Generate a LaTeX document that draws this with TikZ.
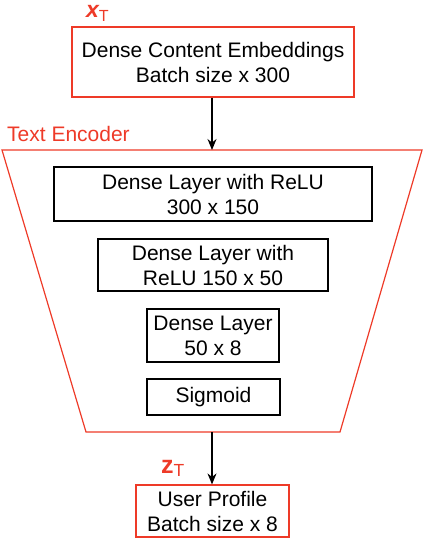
\documentclass[tikz,border=0pt]{standalone}
\usepackage{fontspec}
\setmainfont{Liberation Sans}
\usetikzlibrary{arrows.meta}
\definecolor{encred}{RGB}{238,58,40}
\begin{document}
\begin{tikzpicture}[x=1pt,y=-1pt,
  every node/.style={font=\fontsize{21}{25}\selectfont, align=center, inner sep=0pt},
  layerbox/.style={draw=black, line width=1.4pt, minimum width=#1},
  iobox/.style={draw=encred, line width=1.2pt, minimum width=#1},
  flow/.style={line width=1.3pt, -{Stealth[length=11pt,width=9pt]}},
  redlabel/.style={text=encred}]
\useasboundingbox (0,0) rectangle (424,538);
% input box
\node[iobox=282, minimum height=70] (inp) at (213,62) {Dense Content Embeddings\\Batch size x 300};
\node[redlabel, anchor=base west, font=\fontsize{23}{25}\selectfont\bfseries\itshape] (xt) at (86,17.5) {x\textsubscript{\normalfont\upshape T}};
% encoder trapezoid
\coordinate (tl) at (2,150);
\coordinate (tr) at (422,150);
\coordinate (br) at (340,432);
\coordinate (bl) at (86,432);
\coordinate (ttop) at (212,150);
\coordinate (tbot) at (212,432);
\draw[encred, line width=1.2pt] (tl) -- (tr) -- (br) -- (bl) -- cycle;
\node[redlabel, anchor=base west] (enc) at (7,141) {Text Encoder};
% layers
\node[layerbox=318, minimum height=54] (l1) at (213,194) {Dense Layer with ReLU\\300 x 150};
\node[layerbox=230, minimum height=52] (l2) at (213,265) {Dense Layer with\\ReLU 150 x 50};
\node[layerbox=132, minimum height=53] (l3) at (213,335.5) {Dense Layer\\50 x 8};
\node[layerbox=133, minimum height=36] (l4) at (213.5,397) {Sigmoid};
% output
\node[iobox=153, minimum height=52] (out) at (212.5,511) {User Profile\\Batch size x 8};
\node[redlabel, anchor=base west, font=\fontsize{25}{25}\selectfont\bfseries] (zt) at (161,473) {z\textsubscript{\normalfont T}};
% arrows
\draw[flow] (inp.south -| ttop) -- (ttop);
\draw[flow] (tbot) -- (out.north -| tbot);
\end{tikzpicture}
\end{document}
